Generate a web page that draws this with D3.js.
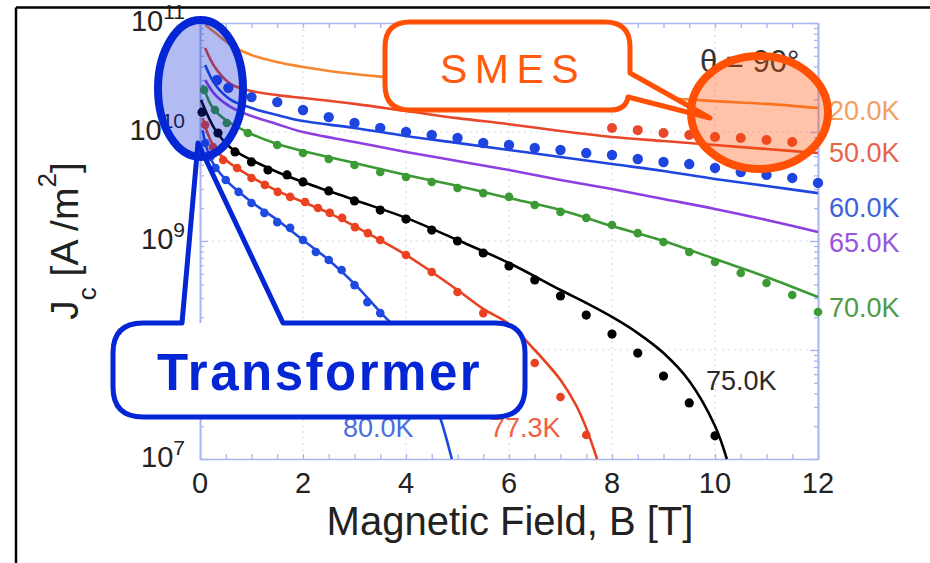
<!DOCTYPE html>
<html><head><meta charset="utf-8">
<script src="https://cdn.jsdelivr.net/npm/d3@7"></script>
<style>
body{margin:0;background:#fff}
svg{display:block}
text{font-family:"Liberation Sans",Arial,Helvetica,sans-serif}
</style>
</head><body>
<svg id="c" width="930" height="563"></svg>
<script>
// ---------- data ----------
const xTickLabels = [0, 2, 4, 6, 8, 10, 12];
const yDecades = [7, 8, 9, 10, 11];
const yLabelDecades = [7, 9, 10, 11]; // 10^8 label is hidden behind the Transformer callout

// 20 K (fit only)
const t20_fitB = [0.1,0.3,0.6,1,1.5,2,3,4,5,6,7,8,9,10,11,12];
const t20_fitJ = [9.59e10,8.09e10,6.28e10,5.08e10,4.38e10,3.95e10,3.40e10,3.06e10,2.75e10,2.53e10,2.33e10,2.18e10,2.05e10,1.92e10,1.81e10,1.66e10];
// 50 K
const t50_fitB = [0.1,0.3,0.6,1,1.5,2,3,4,5,6,7,8,9,10,11,12];
const t50_fitJ = [5.90e10,3.86e10,2.75e10,2.38e10,2.18e10,2.05e10,1.81e10,1.56e10,1.34e10,1.18e10,1.02e10,9.00e9,8.26e9,7.60e9,6.98e9,6.41e9];
const t50_datB = [8,8.5,9,9.5,10,10.5,11,11.5];
const t50_datJ = [1.09e10,1.04e10,9.79e9,9.38e9,9.00e9,8.81e9,8.45e9,8.10e9];
// 60 K
const t60_fitB = [0.1,0.3,0.6,1,1.5,2,3,4,5,6,7,8,9,10,11,12];
const t60_fitJ = [4.12e10,2.70e10,1.97e10,1.66e10,1.43e10,1.26e10,1.09e10,9.19e9,7.93e9,6.84e9,5.90e9,5.08e9,4.39e9,3.71e9,3.20e9,2.75e9];
const t60_datB = [0.33,0.55,1,1.5,2,2.5,3,3.5,4,4.5,5,5.5,6,6.5,7,7.5,8,8.5,9,9.5,10,10.5,11,11.5,12];
const t60_datJ = [3.00e10,2.54e10,2.09e10,1.88e10,1.59e10,1.37e10,1.21e10,1.09e10,1.00e10,9.38e9,8.81e9,7.93e9,7.60e9,7.13e9,6.84e9,6.41e9,6.15e9,5.65e9,5.31e9,5.08e9,4.68e9,4.30e9,4.04e9,3.79e9,3.41e9];
// 65 K (fit only)
const t65_fitB = [0.1,0.3,0.6,1,1.5,2,3,4,5,6,7,8,9,10,11,12];
const t65_fitJ = [3.00e10,2.18e10,1.69e10,1.40e10,1.18e10,1.00e10,8.10e9,6.56e9,5.42e9,4.48e9,3.63e9,3.00e9,2.43e9,1.97e9,1.56e9,1.21e9];
// 70 K
const t70_fitB = [0.05,0.25,0.5,1,1.5,2,3,4,5,6,7,8,9,10,11,12];
const t70_fitJ = [2.70e10,1.66e10,1.29e10,9.59e9,7.76e9,6.70e9,5.20e9,4.04e9,3.20e9,2.48e9,1.92e9,1.37e9,1.00e9,6.84e8,4.68e8,3.06e8];
const t70_datB = [0.08,0.29,0.52,0.93,1.5,2,2.5,3,3.5,4,4.5,5,5.5,6,6.5,7,7.5,8,8.5,9,9.5,10,10.5,11,11.5,12];
const t70_datJ = [2.43e10,1.59e10,1.21e10,9.79e9,7.60e9,6.41e9,5.65e9,4.98e9,4.30e9,3.87e9,3.48e9,3.06e9,2.75e9,2.54e9,2.14e9,1.85e9,1.63e9,1.40e9,1.18e9,9.79e8,7.93e8,6.41e8,5.08e8,4.12e8,3.20e8,2.23e8];
// 75 K
const t75_fitB = [0.02,0.3,0.6,1,1.5,2,3,4,5,6,7,7.5,8,8.5,9,9.5,10,10.23];
const t75_fitJ = [1.97e10,1.04e10,7.13e9,5.53e9,4.30e9,3.48e9,2.38e9,1.63e9,1.02e9,6.28e8,3.55e8,2.70e8,2.01e8,1.43e8,9.38e7,5.20e7,2.01e7,1.00e7];
const t75_datB = [0.04,0.35,0.68,1,1.32,1.69,2,2.5,3,3.5,4,4.5,5,5.5,6,6.5,7,7.5,8,8.5,9,9.5,10];
const t75_datJ = [1.52e10,9.79e9,6.56e9,5.31e9,4.48e9,4.04e9,3.48e9,2.88e9,2.33e9,1.92e9,1.59e9,1.26e9,1.00e9,7.76e8,5.90e8,4.39e8,3.13e8,2.09e8,1.40e8,9.38e7,5.77e7,3.27e7,1.63e7];
// 77.3 K
const t77_fitB = [0.05,0.25,0.5,1,1.5,2,2.5,3,3.5,4,4.5,5,5.5,6,6.5,7,7.3,7.5,7.71];
const t77_fitJ = [1.34e10,7.60e9,5.53e9,3.87e9,2.88e9,2.28e9,1.81e9,1.37e9,1.02e9,7.45e8,5.20e8,3.55e8,2.38e8,1.73e8,1.00e8,5.31e7,3.13e7,1.92e7,1.00e7];
const t77_datB = [0.1,0.25,0.45,0.72,1,1.26,1.51,1.75,2.04,2.29,2.52,2.76,3.01,3.26,3.5,4,4.5,5,5.5,6,6.5,7,7.5];
const t77_datJ = [1.16e10,7.28e9,5.53e9,4.68e9,3.79e9,3.27e9,2.82e9,2.54e9,2.28e9,2.01e9,1.81e9,1.63e9,1.34e9,1.18e9,1.02e9,7.45e8,5.20e8,3.40e8,2.18e8,1.50e8,7.60e7,3.71e7,1.66e7];
// 80 K
const t80_fitB = [0.05,0.2,0.5,1,1.5,2,2.5,3,3.5,4,4.3,4.66,4.89];
const t80_fitJ = [1.04e10,5.77e9,3.63e9,2.28e9,1.56e9,1.02e9,6.70e8,4.04e8,2.23e8,1.24e8,6.84e7,2.43e7,1.00e7];
const t80_datB = [0.1,0.2,0.3,0.5,0.75,1,1.25,1.5,1.75,2,2.25,2.5,2.75,3,3.25,3.5];
const t80_datJ = [7.93e9,5.90e9,4.68e9,3.63e9,2.82e9,2.23e9,1.81e9,1.49e9,1.32e9,1.02e9,7.93e8,6.70e8,5.42e8,3.94e8,2.75e8,2.18e8];

const seriesNames = ["20.0K","50.0K","60.0K","65.0K","70.0K","75.0K","77.3K","80.0K"];
const seriesColors = ["#f7862f","#e8472b","#1f45e0","#8d3fe0","#3b9a33","#000000","#ea4220","#1f4ae0"];
const labelColors  = ["#f2a060","#e4654a","#3d62d8","#9a55dd","#4e9a45","#2a2a2a","#ef6040","#4a6ee0"];
const dotRadius    = [0, 5, 5.2, 0, 4.3, 4.6, 4.3, 4.3];
const fitsB = [t20_fitB,t50_fitB,t60_fitB,t65_fitB,t70_fitB,t75_fitB,t77_fitB,t80_fitB];
const fitsJ = [t20_fitJ,t50_fitJ,t60_fitJ,t65_fitJ,t70_fitJ,t75_fitJ,t77_fitJ,t80_fitJ];
const datsB = [[],t50_datB,t60_datB,[],t70_datB,t75_datB,t77_datB,t80_datB];
const datsJ = [[],t50_datJ,t60_datJ,[],t70_datJ,t75_datJ,t77_datJ,t80_datJ];

// ---------- chart ----------
const svg = d3.select("#c");
const x = d3.scaleLinear().domain([0, 12]).range([200, 818]);
const y = d3.scaleLog().domain([1e7, 1e11]).range([459, 23]);
const axisCol = "#a9b5f0";

// outer frame
svg.append("line").attr("x1",16).attr("y1",7.5).attr("x2",930).attr("y2",7.5).attr("stroke","#000").attr("stroke-width",2.5);
svg.append("line").attr("x1",16).attr("y1",7.5).attr("x2",16).attr("y2",563).attr("stroke","#000").attr("stroke-width",2.5);

// grid
const gGrid = svg.append("g").attr("stroke","#d3d9f3").attr("stroke-width",1.2).attr("stroke-dasharray","2,4");
gGrid.selectAll("line.v").data([2,4,6,8,10]).join("line").attr("class","v")
  .attr("x1",d=>x(d)).attr("x2",d=>x(d)).attr("y1",y(1e11)).attr("y2",y(1e7));
gGrid.selectAll("line.h").data([1e8,1e9,1e10]).join("line").attr("class","h")
  .attr("y1",d=>y(d)).attr("y2",d=>y(d)).attr("x1",x(0)).attr("x2",x(12));

// axes
const minorX = d3.range(0, 12.001, 0.5);
const minorY = [];
for (let d = 7; d < 11; d++) for (let m = 2; m <= 9; m++) minorY.push(m * Math.pow(10, d));
const majorY = yDecades.map(d => Math.pow(10, d));
function styleAxis(g){
  g.select(".domain").attr("stroke",axisCol).attr("stroke-width",1.6);
  g.selectAll(".tick line").attr("stroke",axisCol).attr("stroke-width",1.3);
  g.selectAll(".tick text").remove();
}
svg.append("g").attr("transform",`translate(0,${y(1e7)})`)
  .call(d3.axisBottom(x).tickValues(minorX).tickSize(-5).tickSizeOuter(0).tickFormat("")).call(styleAxis);
svg.append("g").attr("transform",`translate(0,${y(1e11)})`)
  .call(d3.axisTop(x).tickValues(minorX).tickSize(-5).tickSizeOuter(0).tickFormat("")).call(styleAxis);
svg.append("g").attr("transform",`translate(${x(0)},0)`)
  .call(d3.axisLeft(y).tickValues(minorY).tickSize(-4).tickSizeOuter(0).tickFormat("")).call(styleAxis);
svg.append("g").attr("transform",`translate(${x(0)},0)`)
  .call(d3.axisLeft(y).tickValues(majorY).tickSize(-8).tickSizeOuter(0).tickFormat("")).call(styleAxis);
svg.append("g").attr("transform",`translate(${x(12)},0)`)
  .call(d3.axisRight(y).tickValues(minorY).tickSize(-4).tickSizeOuter(0).tickFormat("")).call(styleAxis);
svg.append("g").attr("transform",`translate(${x(12)},0)`)
  .call(d3.axisRight(y).tickValues(majorY).tickSize(-8).tickSizeOuter(0).tickFormat("")).call(styleAxis);

// tick labels
svg.append("g").selectAll("text").data(xTickLabels).join("text")
  .attr("x",d=>x(d)).attr("y",y(1e7)+34).attr("text-anchor","middle")
  .attr("font-size",29).attr("fill","#222").text(d=>d);
const yl = svg.append("g").selectAll("text").data(yLabelDecades).join("text")
  .attr("x",185).attr("y",d=>y(Math.pow(10,d))+8).attr("text-anchor","end").attr("fill","#222");
yl.append("tspan").attr("font-size",29).text("10");
yl.append("tspan").attr("font-size",21).attr("dy",-12).text(d=>d);

// axis titles
svg.append("text").attr("x",510).attr("y",535).attr("text-anchor","middle")
  .attr("font-size",40).attr("fill","#222").text("Magnetic Field, B [T]");
const yt = svg.append("text").attr("transform","translate(78,241) rotate(-90)")
  .attr("text-anchor","middle").attr("font-size",39).attr("fill","#222");
yt.append("tspan").text("J");
yt.append("tspan").attr("font-size",26).attr("dy",18).text("c");
yt.append("tspan").attr("dy",-18).text(" [A /m");
yt.append("tspan").attr("font-size",26).attr("dy",-22).text("2");
yt.append("tspan").attr("dy",22).text("]");

// data
const line = d3.line().x(d=>x(d[0])).y(d=>y(d[1])).curve(d3.curveCatmullRom.alpha(0.5));
const gData = svg.append("g");
seriesNames.forEach((n,i)=>{
  const pts = fitsB[i].map((b,k)=>[b, fitsJ[i][k]]);
  gData.append("path").datum(pts).attr("d",line).attr("fill","none")
    .attr("stroke",seriesColors[i]).attr("stroke-width",2.6);
});
seriesNames.forEach((n,i)=>{
  const pts = datsB[i].map((b,k)=>[b, datsJ[i][k]]);
  gData.append("g").selectAll("circle").data(pts).join("circle")
    .attr("cx",d=>x(d[0])).attr("cy",d=>y(d[1])).attr("r",dotRadius[i]).attr("fill",seriesColors[i]);
});

// series labels
const labelPos = [[829,120],[829,162],[829,217],[829,252],[829,317],[706,390],[490,437],[343,437]];
svg.append("g").selectAll("text").data(seriesNames).join("text")
  .attr("x",(d,i)=>labelPos[i][0]).attr("y",(d,i)=>labelPos[i][1])
  .attr("font-size",27).attr("fill",(d,i)=>labelColors[i]).text(d=>d);

svg.append("text").attr("x",700).attr("y",72).attr("font-size",31).attr("fill","#333").text("θ = 90°");

// Transformer callout
const tBlue = "#0526d4";
svg.append("path").attr("d","M143,323 H495 Q525,323 525,353 V387 Q525,417 495,417 H143 Q113,417 113,387 V353 Q113,323 143,323 Z")
  .attr("fill","#fff");
svg.append("path").attr("d","M182,323 L198,143 L283,323 H495 Q525,323 525,353 V387 Q525,417 495,417 H143 Q113,417 113,387 V353 Q113,323 143,323 Z")
  .attr("fill","none").attr("stroke",tBlue).attr("stroke-width",5).attr("stroke-linejoin","round");
svg.append("text").attr("x",157).attr("y",390).attr("font-size",51).attr("font-weight","bold")
  .attr("letter-spacing",2.5).attr("fill",tBlue).text("Transformer");
svg.append("ellipse").attr("cx",200.5).attr("cy",88.5).attr("rx",42.5).attr("ry",68.5)
  .attr("fill",tBlue).attr("fill-opacity",0.31).attr("stroke",tBlue).attr("stroke-width",8);

// SMES callout
const sOr = "#ff5005";
svg.append("path").attr("d","M410,22 H605 Q630,22 630,47 V73 L710,118 L628,97 Q626,110 610,110 H410 Q385,110 385,85 V47 Q385,22 410,22 Z")
  .attr("fill","#fff").attr("stroke",sOr).attr("stroke-width",5).attr("stroke-linejoin","round");
svg.append("text").attr("x",440).attr("y",83).attr("font-size",41).attr("letter-spacing",7.5)
  .attr("fill","#ff5a10").text("SMES");
svg.append("ellipse").attr("cx",759.5).attr("cy",112.5).attr("rx",68.5).attr("ry",56.5)
  .attr("fill",sOr).attr("fill-opacity",0.34).attr("stroke",sOr).attr("stroke-width",8);
</script>
</body></html>
